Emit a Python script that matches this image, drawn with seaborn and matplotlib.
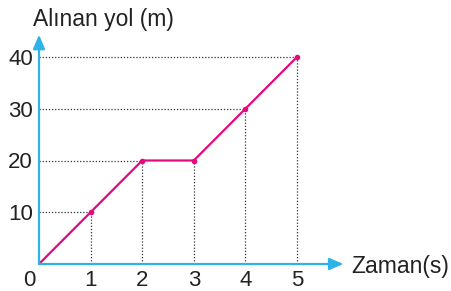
import matplotlib
matplotlib.use("Agg")
import matplotlib.pyplot as plt
import seaborn as sns
import pandas as pd

time_s = [0, 1, 2, 3, 4, 5]
distance_m = [0, 10, 20, 20, 30, 40]
x_ticks = [1, 2, 3, 4, 5]
y_ticks = [10, 20, 30, 40]
x_label = "Zaman(s)"
y_label = "Alınan yol (m)"

sns.set_theme(style="white")
plt.rcParams['font.family'] = ['Liberation Sans', 'DejaVu Sans']

W, H = 452, 291
fig = plt.figure(figsize=(W / 100, H / 100), dpi=100)
ox, oy = 39, 264
px_x = 51.6
px_y = 5.175
xmax, ymax = 5.9, 44.3
ax = fig.add_axes([ox / W, (H - oy) / H, xmax * px_x / W, ymax * px_y / H])
ax.set_xlim(0, xmax)
ax.set_ylim(0, ymax)
for s in ax.spines.values():
    s.set_visible(False)
ax.set_xticks([])
ax.set_yticks([])
ax.patch.set_alpha(0)

df = pd.DataFrame({"t": time_s, "d": distance_m})

# dotted guide lines
dot_kw = dict(color="#333333", lw=0.9, ls=(0, (1, 1.5)), zorder=1)
for t, d in zip(time_s[1:], distance_m[1:]):
    ax.plot([t, t], [0, d], **dot_kw)
seen = {}
for t, d in zip(time_s[1:], distance_m[1:]):
    if d not in seen:
        seen[d] = t
for d, t in seen.items():
    ax.plot([0, t], [d, d], **dot_kw)

magenta = "#e5087e"
sns.lineplot(data=df, x="t", y="d", ax=ax, color=magenta, lw=1.6, zorder=3,
             legend=False)
ax.scatter(time_s[1:], distance_m[1:], s=16, color=magenta, zorder=4, lw=0)
ax.set_xlabel("")
ax.set_ylabel("")

blue = "#2eb3e8"
ax.annotate("", xy=(xmax, 0), xytext=(0, 0),
            arrowprops=dict(arrowstyle="-|>,head_length=0.7,head_width=0.3",
                            color=blue, lw=1.6, shrinkA=0, shrinkB=0),
            annotation_clip=False, zorder=5)
ax.annotate("", xy=(0, ymax), xytext=(0, 0),
            arrowprops=dict(arrowstyle="-|>,head_length=0.7,head_width=0.3",
                            color=blue, lw=1.6, shrinkA=0, shrinkB=0),
            annotation_clip=False, zorder=5)

fs = 16
fs_lbl = 16.5
txt_color = "#222222"
for t in x_ticks:
    ax.annotate(str(t), xy=(t, 0), xytext=(0, -4), textcoords="offset points",
                ha="center", va="top", fontsize=fs, color=txt_color,
                annotation_clip=False)
ax.annotate("0", xy=(0, 0), xytext=(-7, -4), textcoords="offset points",
            ha="center", va="top", fontsize=fs, color=txt_color,
            annotation_clip=False)
for d in y_ticks:
    ax.annotate(str(d), xy=(0, d), xytext=(-4.3, 0), textcoords="offset points",
                ha="right", va="center_baseline", fontsize=fs, color=txt_color,
                annotation_clip=False)

fig.text(33 / W, 1 - 26 / H, y_label, ha="left", va="baseline", fontsize=fs_lbl,
         color=txt_color)
fig.text(351 / W, 1 - 273 / H, x_label, ha="left", va="baseline", fontsize=fs_lbl,
         color=txt_color)

fig.savefig("out.png", dpi=100)
